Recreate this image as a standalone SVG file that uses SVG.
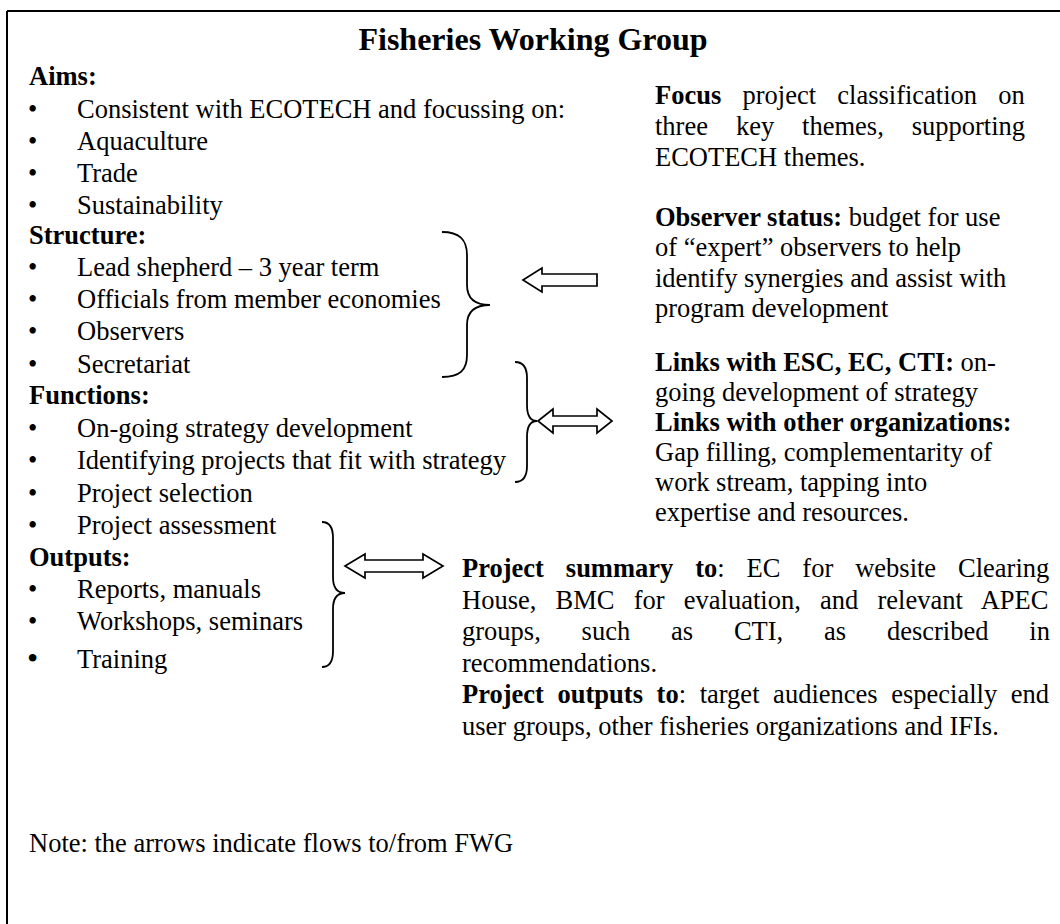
<svg xmlns="http://www.w3.org/2000/svg" width="1060" height="924" viewBox="0 0 1060 924">
<style>
text{font-family:"Liberation Serif","Times New Roman",serif;font-size:26.5px;fill:#000}
.b{font-weight:bold}
.t{font-weight:bold;font-size:32px}
.br{fill:none;stroke:#000;stroke-width:1.8}
.ar{fill:#fff;stroke:#000;stroke-width:1.7;stroke-linejoin:miter}
</style>
<rect width="1060" height="924" fill="#fff"/>
<path d="M7,11 H1060 M7,11 V924" fill="none" stroke="#000" stroke-width="2"/>

<g id="title"><text class="t" x="533" y="50" text-anchor="middle">Fisheries Working Group</text></g>

<g id="left-column">
<text class="b" x="29" y="85">Aims:</text>
<text x="28" y="118">•</text><text x="77" y="118">Consistent with ECOTECH and focussing on:</text>
<text x="28" y="150">•</text><text x="77" y="150">Aquaculture</text>
<text x="28" y="182">•</text><text x="77" y="182">Trade</text>
<text x="28" y="214">•</text><text x="77" y="214">Sustainability</text>
<text class="b" x="29" y="244">Structure:</text>
<text x="28" y="276">•</text><text x="77" y="276">Lead shepherd – 3 year term</text>
<text x="28" y="308">•</text><text x="77" y="308">Officials from member economies</text>
<text x="28" y="340">•</text><text x="77" y="340">Observers</text>
<text x="28" y="373">•</text><text x="77" y="373">Secretariat</text>
<text class="b" x="29" y="404">Functions:</text>
<text x="28" y="437">•</text><text x="77" y="437">On-going strategy development</text>
<text x="28" y="469">•</text><text x="77" y="469">Identifying projects that fit with strategy</text>
<text x="28" y="502">•</text><text x="77" y="502">Project selection</text>
<text x="28" y="534">•</text><text x="77" y="534">Project assessment</text>
<text class="b" x="29" y="566">Outputs:</text>
<text x="28" y="598">•</text><text x="77" y="598">Reports, manuals</text>
<text x="28" y="630">•</text><text x="77" y="630">Workshops, seminars</text>
<text x="27" y="669" style="font-size:32px">•</text><text x="77" y="668">Training</text>
</g>

<g id="focus">
<text x="655" y="104" style="word-spacing:14.6px"><tspan class="b">Focus</tspan> project classification on</text>
<text x="655" y="135" style="word-spacing:21.3px">three key themes, supporting</text>
<text x="655" y="166">ECOTECH themes.</text>
</g>

<g id="observer">
<text x="655" y="226"><tspan class="b">Observer status:</tspan> budget for use</text>
<text x="655" y="256">of “expert” observers to help</text>
<text x="655" y="287">identify synergies and assist with</text>
<text x="655" y="317">program development</text>
</g>

<g id="links">
<text x="655" y="371"><tspan class="b">Links with ESC, EC, CTI:</tspan> on-</text>
<text x="655" y="401">going development of strategy</text>
<text class="b" x="655" y="431">Links with other organizations:</text>
<text x="655" y="461">Gap filling, complementarity of</text>
<text x="655" y="491">work stream, tapping into</text>
<text x="655" y="521">expertise and resources.</text>
</g>

<g id="project">
<text x="462" y="577" style="word-spacing:15.3px"><tspan class="b">Project summary to</tspan>: EC for website Clearing</text>
<text x="462" y="609" style="word-spacing:12.6px">House, BMC for evaluation, and relevant APEC</text>
<text x="462" y="640" style="word-spacing:34.2px">groups, such as CTI, as described in</text>
<text x="462" y="672">recommendations.</text>
<text x="462" y="703" style="word-spacing:7px"><tspan class="b">Project outputs to</tspan>: target audiences especially end</text>
<text x="462" y="735">user groups, other fisheries organizations and IFIs.</text>
</g>

<g id="note"><text x="29" y="852">Note: the arrows indicate flows to/from FWG</text></g>

<g id="connectors">
<path class="br" d="M442,232 C460,232 467,240 467,255 L467,285 C467,298 475,305 490,305 C475,305 467,312 467,325 L467,355 C467,370 460,377 442,377"/>
<path class="br" d="M515,362 C524,362 527,368 527,378 L527,405 C527,415 530,421 537,421 C530,421 527,427 527,437 L527,466 C527,476 524,482 515,482"/>
<path class="br" d="M322,522 C330,522 333,528 333,538 L333,577 C333,587 337,593 345,593 C337,593 333,599 333,609 L333,651 C333,661 330,667 322,667"/>
<polygon class="ar" points="523,280 542,268 542,274 597,274 597,286 542,286 542,292"/>
<polygon class="ar" points="538,421 553,409 553,416 597,416 597,409 612,421 597,433 597,426 553,426 553,433"/>
<polygon class="ar" points="345,566 365,554 365,560 423,560 423,554 443,566 423,578 423,572 365,572 365,578"/>
</g>
</svg>
